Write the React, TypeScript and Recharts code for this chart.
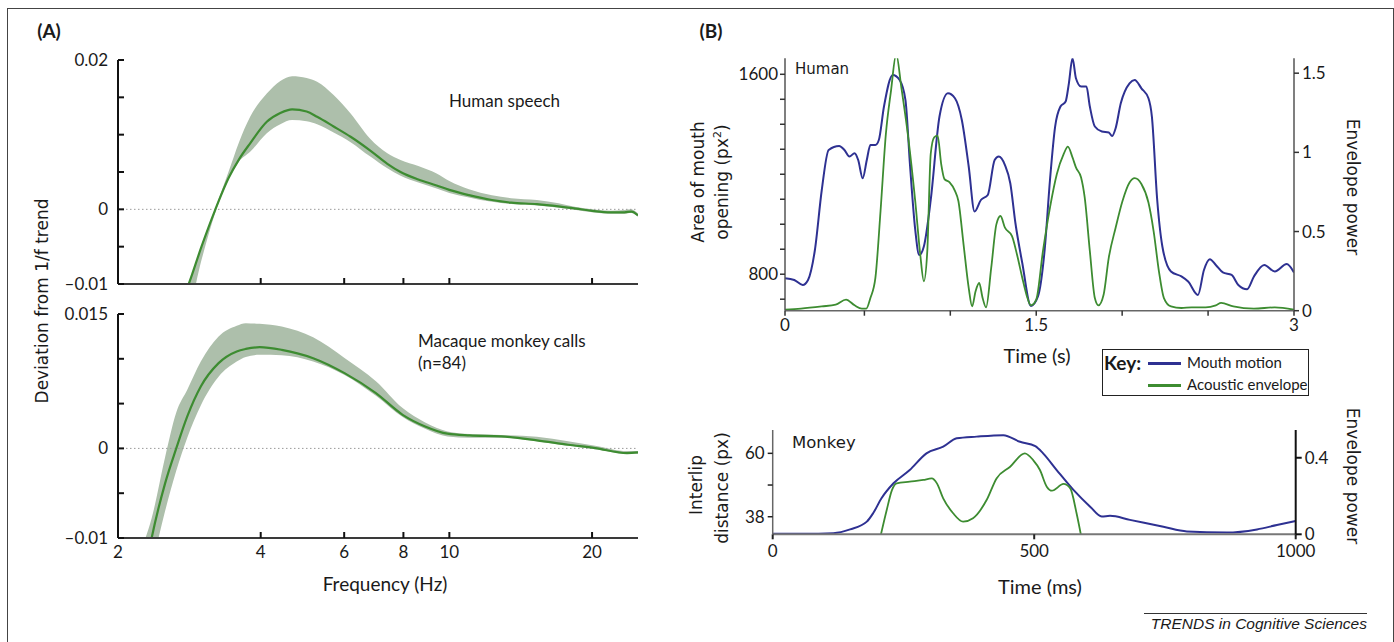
import React from 'react';
import { ComposedChart, LineChart, Line, Area, XAxis, YAxis, ReferenceLine } from 'recharts';

// ---- (A) spectra, deviation from 1/f trend ----
const speechFreq = [2.75, 2.82, 3.0, 3.21, 3.42, 3.6, 3.8, 4.12, 4.4, 4.66, 5.0, 5.26, 5.7, 6.19, 6.8, 7.4, 7.89, 8.6, 9.4, 10.0, 11.0, 12.3, 13.5, 15.3, 17.0, 18.5, 20.0, 21.9, 23.4, 24.2, 25.0];
const speechMean = [-0.0118, -0.01, -0.005, 0.0, 0.00415, 0.0067, 0.00884, 0.01173, 0.0129, 0.01339, 0.0131, 0.0124, 0.0111, 0.00972, 0.0079, 0.0061, 0.005, 0.004, 0.0032, 0.0026, 0.0019, 0.00125, 0.0009, 0.0007, 0.0004, 0.0001, -0.0002, -0.0004, -0.0004, -0.0003, -0.0008];
const speechLow = [-0.0145, -0.0135, -0.0068, -0.0004, 0.004, 0.0064, 0.0077, 0.0102, 0.0114, 0.01195, 0.0118, 0.0114, 0.0103, 0.009, 0.0071, 0.0055, 0.0045, 0.0036, 0.0028, 0.0022, 0.0016, 0.001, 0.0007, 0.0005, 0.0002, -0.0001, -0.0004, -0.0006, -0.0006, -0.0005, -0.001];
const speechHigh = [-0.0117, -0.0099, -0.0049, 0.0002, 0.005, 0.009, 0.0124, 0.0155, 0.0172, 0.01784, 0.0176, 0.0171, 0.0153, 0.01285, 0.0095, 0.0075, 0.0066, 0.0058, 0.0048, 0.0038, 0.0027, 0.0019, 0.0015, 0.00125, 0.0008, 0.0003, 0.0, -0.0002, -0.0001, 0.0, -0.0006];

const callFreq = [2.25, 2.355, 2.514, 2.654, 2.8, 2.99, 3.26, 3.56, 3.72, 3.98, 4.43, 5.16, 6.01, 7.0, 7.97, 8.89, 9.91, 11.04, 12.86, 15.3, 17.8, 20.3, 23.7, 25.0];
const callMean = [-0.0155, -0.01, -0.0039, 0.0, 0.00357, 0.00691, 0.00952, 0.01082, 0.0111, 0.0113, 0.011, 0.01007, 0.0084, 0.00617, 0.00375, 0.00245, 0.00164, 0.00145, 0.00134, 0.00089, 0.00041, 0.00004, -0.00052, -0.00045];
const callLow = [-0.019, -0.0135, -0.007, -0.0025, 0.0012, 0.0048, 0.008, 0.0097, 0.0102, 0.01045, 0.0104, 0.0097, 0.0082, 0.00587, 0.0035, 0.0022, 0.00134, 0.0012, 0.0012, 0.0008, 0.0003, -0.0001, -0.0006, -0.0006];
const callHigh = [-0.011, -0.0078, -0.001, 0.004, 0.00654, 0.0097, 0.0125, 0.0137, 0.01398, 0.0139, 0.0136, 0.0124, 0.0101, 0.0075, 0.0045, 0.0029, 0.0019, 0.0016, 0.0015, 0.0013, 0.0008, 0.0003, -0.0003, -0.0003];

const freqTicks = [2, 4, 6, 8, 10, 20];
const speechYTicks = [-0.01, -0.005, 0, 0.005, 0.01, 0.015, 0.02];
const speechYLabels = ['\u20130.01', '', '0', '', '', '', '0.02'];
const callYTicks = [-0.01, -0.005, 0, 0.005, 0.01, 0.015];
const callYLabels = ['\u20130.01', '', '0', '', '', '0.015'];

// ---- (B) human: mouth area and acoustic envelope ----
const mouthT = [0.038, 0.092, 0.141, 0.172, 0.212, 0.252, 0.292, 0.353, 0.384, 0.413, 0.443, 0.464, 0.49, 0.514, 0.535, 0.564, 0.584, 0.614, 0.665, 0.705, 0.739, 0.766, 0.796, 0.819, 0.846, 0.886, 0.937, 0.986, 1.027, 1.067, 1.107, 1.141, 1.178, 1.218, 1.258, 1.282, 1.318, 1.349, 1.379, 1.419, 1.469, 1.51, 1.549, 1.58, 1.61, 1.641, 1.671, 1.69, 1.711, 1.731, 1.761, 1.792, 1.812, 1.841, 1.882, 1.922, 1.942, 1.962, 1.992, 2.043, 2.073, 2.112, 2.153, 2.173, 2.204, 2.234, 2.284, 2.345, 2.384, 2.441, 2.476, 2.51, 2.545, 2.586, 2.637, 2.676, 2.727, 2.767, 2.827, 2.888, 2.958, 3.0];
const mouthArea = [784, 777, 757, 777, 897, 1137, 1297, 1313, 1297, 1271, 1284, 1257, 1184, 1257, 1317, 1317, 1337, 1471, 1597, 1577, 1497, 1231, 977, 877, 911, 1097, 1431, 1524, 1504, 1417, 1231, 1051, 1097, 1117, 1257, 1271, 1237, 1164, 1004, 844, 673, 711, 897, 1177, 1391, 1471, 1491, 1564, 1664, 1584, 1551, 1551, 1471, 1391, 1371, 1367, 1353, 1384, 1484, 1564, 1577, 1544, 1504, 1431, 1097, 911, 811, 791, 771, 717, 817, 860, 837, 807, 797, 757, 740, 791, 837, 811, 841, 807];
const envT = [0.038, 0.131, 0.252, 0.333, 0.393, 0.443, 0.485, 0.511, 0.535, 0.564, 0.594, 0.625, 0.655, 0.685, 0.715, 0.755, 0.796, 0.825, 0.846, 0.866, 0.886, 0.906, 0.926, 0.947, 0.966, 0.996, 1.027, 1.047, 1.077, 1.107, 1.127, 1.147, 1.168, 1.188, 1.208, 1.238, 1.268, 1.292, 1.318, 1.359, 1.388, 1.419, 1.449, 1.469, 1.5, 1.539, 1.58, 1.62, 1.66, 1.684, 1.711, 1.731, 1.761, 1.782, 1.812, 1.841, 1.862, 1.892, 1.922, 1.962, 2.002, 2.043, 2.073, 2.112, 2.153, 2.183, 2.214, 2.243, 2.284, 2.345, 2.404, 2.486, 2.545, 2.576, 2.647, 2.767, 2.888, 3.0];
const envPower = [0.006, 0.013, 0.027, 0.038, 0.07, 0.034, 0.013, 0.013, 0.08, 0.207, 0.63, 1.116, 1.39, 1.62, 1.41, 1.095, 0.69, 0.355, 0.186, 0.376, 0.99, 1.095, 1.106, 0.926, 0.831, 0.81, 0.757, 0.693, 0.419, 0.144, 0.027, 0.123, 0.175, 0.08, 0.021, 0.27, 0.545, 0.598, 0.524, 0.471, 0.355, 0.207, 0.08, 0.034, 0.07, 0.376, 0.651, 0.863, 0.99, 1.036, 0.968, 0.905, 0.841, 0.715, 0.376, 0.08, 0.034, 0.101, 0.334, 0.524, 0.693, 0.81, 0.837, 0.8, 0.683, 0.503, 0.249, 0.08, 0.027, 0.017, 0.021, 0.021, 0.034, 0.049, 0.027, 0.013, 0.021, 0.006];
const humanXTicks = [0.038, 0.5, 1, 1.5, 2, 2.5, 3];
const humanXLabels = ['0', '', '', '1.5', '', '', '3'];
const mouthTicks = [700, 800, 900, 1000, 1100, 1200, 1300, 1400, 1500, 1600];
const mouthLabels = ['', '800', '', '', '', '', '', '', '', '1600'];
const envTicks = [0, 0.5, 1, 1.5];

// ---- (B) monkey: interlip distance and envelope ----
const lipT = [0, 59, 116, 148, 180, 192, 208, 231, 262, 294, 326, 352, 390, 441, 473, 502, 517, 543, 575, 607, 629, 645, 683, 747, 792, 868, 926, 964, 1000];
const lipDist = [32.1, 32.1, 32.3, 33.6, 36.3, 39.2, 44.4, 49.6, 54.2, 60.0, 62.3, 65.2, 65.8, 66.3, 64.0, 62.5, 60.0, 54.2, 47.3, 41.5, 38.1, 38.3, 36.9, 34.5, 32.9, 32.5, 33.6, 35.1, 36.5];
const callEnvT = [207, 218, 228, 237, 262, 288, 304, 314, 326, 345, 364, 383, 409, 428, 454, 482, 498, 511, 524, 534, 556, 569, 581, 590];
const callEnv = [0.0, 0.127, 0.231, 0.266, 0.275, 0.284, 0.292, 0.266, 0.188, 0.11, 0.066, 0.084, 0.179, 0.292, 0.353, 0.423, 0.388, 0.336, 0.249, 0.228, 0.263, 0.24, 0.11, -0.012];
const lipTicks = [38, 49, 60];
const lipLabels = ['38', '', '60'];

const LATO = 'Lato, "Noto Sans", sans-serif';
const DEJAVU = '"DejaVu Sans", Verdana, sans-serif';
const GREEN = '#3d8c31';
const BLUE = '#2e3192';
const BAND = '#adbfab';
const INK = '#1a1a1a';

const speechData = speechFreq.map((f, i) => ({ f, mean: speechMean[i], band: [speechLow[i], speechHigh[i]] }));
const callData = callFreq.map((f, i) => ({ f, mean: callMean[i], band: [callLow[i], callHigh[i]] }));
const mouthData = mouthT.map((t, i) => ({ t, v: mouthArea[i] }));
const envData = envT.map((t, i) => ({ t, v: envPower[i] }));
const lipData = lipT.map((t, i) => ({ t, v: lipDist[i] }));
const callEnvData = callEnvT.map((t, i) => ({ t, v: callEnv[i] }));

const pick = (ticks: number[], labels: string[]) => (v: number) => {
  const i = ticks.indexOf(v);
  return i >= 0 ? labels[i] : '';
};

const tickFont = { fontSize: 17, fill: INK, fontFamily: LATO };

type TxtProps = {
  x: number;
  y: number;
  size?: number;
  font?: string;
  bold?: boolean;
  italic?: boolean;
  rotate?: number;
  align?: 'center' | 'left' | 'right';
  children: React.ReactNode;
};

function Txt({ x, y, size = 16, font = LATO, bold, italic, rotate = 0, align = 'center', children }: TxtProps) {
  const tx = align === 'center' ? '-50%' : align === 'right' ? '-100%' : '0';
  return (
    <div
      style={{
        position: 'absolute',
        left: x,
        top: y,
        transform: `translate(${tx}, -50%) rotate(${rotate}deg)`,
        fontSize: size,
        fontFamily: font,
        fontWeight: bold ? 700 : 400,
        fontStyle: italic ? 'italic' : 'normal',
        whiteSpace: 'nowrap',
        lineHeight: 1,
        color: INK,
      }}
    >
      {children}
    </div>
  );
}

function Spectrum({ data, top, height, yDomain, yTicks, yLabels, showX }: any) {
  return (
    <div style={{ position: 'absolute', left: 0, top }}>
      <ComposedChart width={700} height={height} data={data} margin={{ top: 14, right: 62, bottom: showX ? 12 : 0, left: 58 }}>
        <ReferenceLine y={0} stroke="#9a9a9a" strokeDasharray="1.5 2.5" />
        <XAxis
          dataKey="f"
          type="number"
          scale="log"
          domain={[2, 25]}
          ticks={showX ? freqTicks : freqTicks.slice(1)}
          allowDataOverflow
          interval={0}
          height={showX ? 30 : 16}
          tickSize={-6}
          tickMargin={14}
          tick={tickFont}
          tickFormatter={showX ? (v: number) => String(v) : () => ''}
          axisLine={{ stroke: '#3a3a3a', strokeWidth: 2 }}
          tickLine={{ stroke: '#111', strokeWidth: 2 }}
        />
        <YAxis
          type="number"
          domain={yDomain}
          ticks={yTicks}
          allowDataOverflow
          interval={0}
          width={60}
          tickSize={-6}
          tickMargin={16}
          tick={tickFont}
          tickFormatter={pick(yTicks, yLabels)}
          axisLine={{ stroke: '#111', strokeWidth: 2 }}
          tickLine={{ stroke: '#111', strokeWidth: 2 }}
        />
        <Area dataKey="band" type="monotone" stroke="none" fill={BAND} fillOpacity={1} isAnimationActive={false} />
        <Line dataKey="mean" type="monotone" stroke={GREEN} strokeWidth={2.2} dot={false} isAnimationActive={false} />
      </ComposedChart>
    </div>
  );
}

export default function App() {
  return (
    <div style={{ position: 'absolute', left: 0, top: 0, width: 1394, height: 642, background: '#fff', overflow: 'hidden' }}>
      <div style={{ position: 'absolute', left: 7, top: 8, width: 1387, height: 700, boxSizing: 'border-box', border: '1px solid #444' }} />

      {/* (A) */}
      <Spectrum data={speechData} top={46} height={254} yDomain={[-0.01, 0.02]} yTicks={speechYTicks} yLabels={speechYLabels} showX={false} />
      <Spectrum data={callData} top={300} height={280} yDomain={[-0.01, 0.015]} yTicks={callYTicks} yLabels={callYLabels} showX />

      <Txt x={49} y={30} size={19} bold>(A)</Txt>
      <Txt x={449} y={100} size={17} align="left">Human speech</Txt>
      <Txt x={418} y={340} size={17} align="left">Macaque monkey calls</Txt>
      <Txt x={418} y={362} size={17} align="left">(n=84)</Txt>
      <Txt x={42} y={301} size={17} font={DEJAVU} rotate={-90}>Deviation from 1/f trend</Txt>
      <Txt x={385} y={583} size={19}>Frequency (Hz)</Txt>

      {/* (B) human */}
      <div style={{ position: 'absolute', left: 700, top: 0 }}>
        <LineChart width={660} height={340} margin={{ top: 58.3, right: 26, bottom: 9.3, left: 35 }}>
          <XAxis
            dataKey="t"
            type="number"
            domain={[0.038, 3]}
            ticks={humanXTicks}
            interval={0}
            allowDataOverflow
            height={20}
            tickSize={5}
            tickMargin={3}
            tick={tickFont}
            tickFormatter={pick(humanXTicks, humanXLabels)}
            axisLine={{ stroke: '#666', strokeWidth: 1.5 }}
            tickLine={{ stroke: '#333', strokeWidth: 1.5 }}
          />
          <YAxis
            yAxisId="left"
            type="number"
            domain={[654, 1664]}
            ticks={mouthTicks}
            interval={0}
            allowDataOverflow
            width={50}
            tickSize={5}
            tickMargin={2}
            tick={tickFont}
            tickFormatter={pick(mouthTicks, mouthLabels)}
            axisLine={{ stroke: '#555', strokeWidth: 1.5 }}
            tickLine={{ stroke: '#333', strokeWidth: 1.5 }}
          />
          <YAxis
            yAxisId="right"
            orientation="right"
            type="number"
            domain={[0, 1.594]}
            ticks={envTicks}
            interval={0}
            allowDataOverflow
            width={40}
            tickSize={5}
            tickMargin={3}
            tick={tickFont}
            axisLine={{ stroke: '#555', strokeWidth: 1.5 }}
            tickLine={{ stroke: '#333', strokeWidth: 1.5 }}
          />
          <Line yAxisId="left" data={mouthData} dataKey="v" type="monotone" stroke={BLUE} strokeWidth={2} dot={false} isAnimationActive={false} />
          <Line yAxisId="right" data={envData} dataKey="v" type="monotone" stroke={GREEN} strokeWidth={1.8} dot={false} isAnimationActive={false} />
        </LineChart>
      </div>

      <Txt x={711} y={30} size={19} bold>(B)</Txt>
      <Txt x={795} y={69} size={15} font={DEJAVU} align="left">Human</Txt>
      <Txt x={698} y={182} size={17} font={DEJAVU} rotate={-90}>Area of mouth</Txt>
      <Txt x={722} y={182} size={17} font={DEJAVU} rotate={-90}>
        opening (px<span style={{ fontSize: 11, position: 'relative', top: -7 }}>2</span>)
      </Txt>
      <Txt x={1352} y={187} size={17} font={DEJAVU} rotate={90}>Envelope power</Txt>
      <Txt x={1037} y={355} size={20}>Time (s)</Txt>

      {/* key */}
      <div style={{ position: 'absolute', left: 1102, top: 349, width: 207, height: 47, boxSizing: 'border-box', border: '1px solid #222' }} />
      <Txt x={1104} y={362} size={19} bold align="left">Key:</Txt>
      <div style={{ position: 'absolute', left: 1148, top: 362, width: 33, height: 3, background: BLUE }} />
      <Txt x={1187} y={362} size={15} align="left">Mouth motion</Txt>
      <div style={{ position: 'absolute', left: 1148, top: 384, width: 33, height: 3, background: GREEN }} />
      <Txt x={1187} y={384} size={15} align="left">Acoustic envelope</Txt>

      {/* (B) monkey */}
      <div style={{ position: 'absolute', left: 700, top: 400 }}>
        <LineChart width={660} height={180} margin={{ top: 30, right: 24.3, bottom: 25.7, left: 22.7 }}>
          <XAxis
            dataKey="t"
            type="number"
            domain={[0, 1000]}
            ticks={[0, 500, 1000]}
            interval={0}
            height={20}
            tickSize={5}
            tickMargin={6}
            tick={tickFont}
            axisLine={{ stroke: '#777', strokeWidth: 2 }}
            tickLine={{ stroke: '#222', strokeWidth: 2 }}
          />
          <YAxis
            yAxisId="left"
            type="number"
            domain={[31.9, 68.1]}
            ticks={lipTicks}
            interval={0}
            allowDataOverflow
            width={50}
            tickSize={5}
            tickMargin={3}
            tick={tickFont}
            tickFormatter={pick(lipTicks, lipLabels)}
            axisLine={{ stroke: '#666', strokeWidth: 1.5 }}
            tickLine={{ stroke: '#222', strokeWidth: 1.5 }}
          />
          <YAxis
            yAxisId="right"
            orientation="right"
            type="number"
            domain={[0, 0.545]}
            ticks={[0, 0.4]}
            interval={0}
            allowDataOverflow
            width={40}
            tickSize={6}
            tickMargin={3}
            tick={tickFont}
            axisLine={{ stroke: '#111', strokeWidth: 2 }}
            tickLine={{ stroke: '#111', strokeWidth: 2 }}
          />
          <Line yAxisId="left" data={lipData} dataKey="v" type="monotone" stroke={BLUE} strokeWidth={2} dot={false} isAnimationActive={false} />
          <Line yAxisId="right" data={callEnvData} dataKey="v" type="monotone" stroke={GREEN} strokeWidth={1.8} dot={false} isAnimationActive={false} />
        </LineChart>
      </div>

      <Txt x={792} y={443} size={16.5} font={DEJAVU} align="left">Monkey</Txt>
      <Txt x={696} y={485} size={17} font={DEJAVU} rotate={-90}>Interlip</Txt>
      <Txt x={722} y={488} size={17} font={DEJAVU} rotate={-90}>distance (px)</Txt>
      <Txt x={1352} y={476} size={17} font={DEJAVU} rotate={90}>Envelope power</Txt>
      <Txt x={1040} y={586} size={20}>Time (ms)</Txt>

      {/* footer */}
      <div style={{ position: 'absolute', left: 1144, top: 613, width: 223, height: 1, background: '#333' }} />
      <Txt x={1367} y={624} size={15.5} font='"Liberation Sans", Arial, sans-serif' italic align="right">TRENDS in Cognitive Sciences</Txt>
    </div>
  );
}
